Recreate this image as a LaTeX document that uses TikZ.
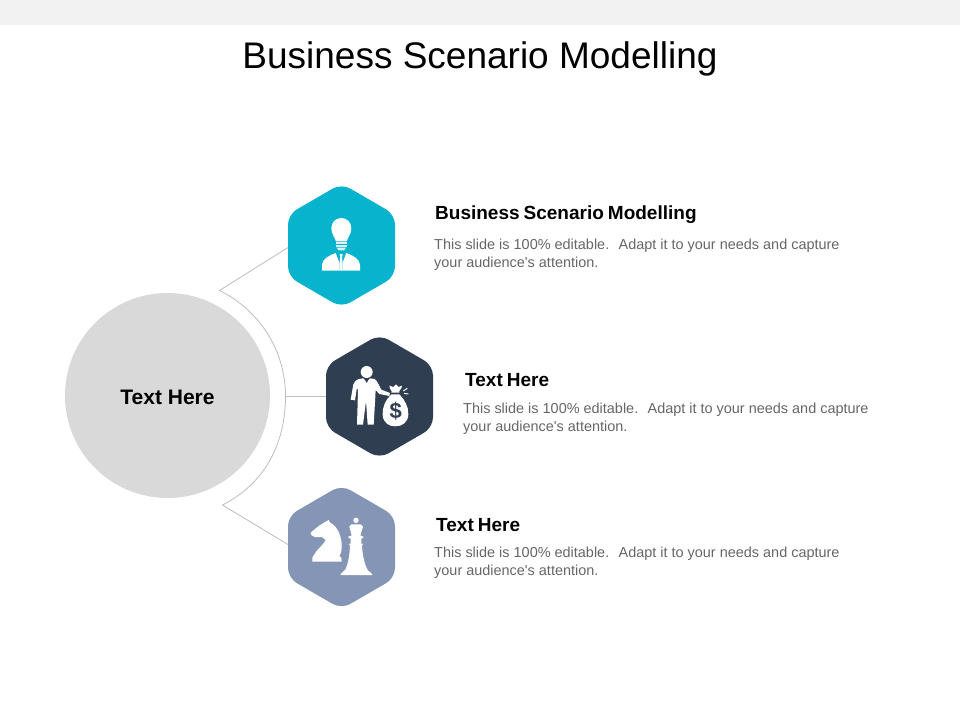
\documentclass[tikz,border=0pt]{standalone}
\usepackage{fontspec}
\setmainfont{Liberation Sans}
\definecolor{teal1}{HTML}{08B4CD}
\definecolor{navy1}{HTML}{2F3E50}
\definecolor{slate1}{HTML}{8595B5}
\definecolor{disc}{HTML}{D9D9D9}
\definecolor{wire}{HTML}{BDBDBD}
\definecolor{bodygrey}{HTML}{666666}
\newcommand{\hexat}[2]{\fill[#2,rounded corners=10pt] ($(#1)+(0,-62)$) -- ($(#1)+(53.5,-31)$) -- ($(#1)+(53.5,31)$) -- ($(#1)+(0,62)$) -- ($(#1)+(-53.5,31)$) -- ($(#1)+(-53.5,-31)$) -- cycle;}
\usetikzlibrary{calc}
\tikzset{
 wireline/.style={draw=wire,line width=0.8pt},
 headtext/.style={anchor=base west,inner sep=0pt,font=\fontsize{19}{19}\selectfont\bfseries,text=black},
 bodytext/.style={anchor=north west,inner sep=0pt,align=left,font=\fontsize{14.45}{18.6}\selectfont,text=bodygrey},
 icon/.style={fill=white,draw=none}
}
\begin{document}
\begin{tikzpicture}[x=1pt,y=-1pt]
\useasboundingbox (0,0) rectangle (960,720);
\fill[white] (0,0) rectangle (960,720);
\fill[black!5] (0,0) rectangle (960,25);
\node[anchor=base,inner sep=0pt,font=\fontsize{37}{37}\selectfont] (title) at (480,68.5) {Business Scenario Modelling};
% centre disc
\node[circle,fill=disc,minimum size=205pt,inner sep=0pt] (hub) at (167.5,395.5) {};
\node[inner sep=0pt,font=\fontsize{21}{21}\selectfont\bfseries] (hubtext) at (167.5,397) {Text Here};
% hexagons
\coordinate (h1) at (341.5,245.5);
\coordinate (h2) at (379.5,396.5);
\coordinate (h3) at (341.5,547);
\coordinate (h1l) at (288,247.5);
\coordinate (h2l) at (326,396);
\coordinate (h3l) at (288,544.5);
\coordinate (arcA) at (219.5,290.5);
\coordinate (arcM) at (285.5,396);
\coordinate (arcB) at (222.5,505);
\path[wireline] (h1l) -- (arcA) .. controls (259.9,310.4) and (285.5,351) .. (arcM) .. controls (285.5,443) and (265.5,483) .. (arcB) -- (h3l);
\path[wireline] (arcM) -- (h2l);
\hexat{h1}{teal1}
\hexat{h2}{navy1}
\hexat{h3}{slate1}
% icon 1: bulb person
\begin{scope}[shift={(270,170)},scale=1/3]
\fill[icon] (198,214) .. controls (194,200) and (184,192) .. (184,175) .. controls (184,157) and (197,144) .. (214,144) .. controls (231,144) and (244,157) .. (244,175) .. controls (244,192) and (234,200) .. (230,214) -- cycle;
\fill[white!85!teal1] (198,216) rectangle (230,222);
\fill[white!85!teal1] (198,224) rectangle (230,231);
\fill[white!85!teal1] (200,233) -- (228,233) -- (222,241) -- (206,241) -- cycle;
\fill[icon] (156,302) -- (156,284) .. controls (158,266) and (175,258) .. (197,249) -- (208,278) -- (208,302) -- cycle;
\fill[icon] (270,302) -- (270,284) .. controls (268,266) and (251,258) .. (229,249) -- (218,278) -- (218,302) -- cycle;
\fill[icon] (209,252) -- (218,252) -- (216,262) -- (218,282) -- (218,302) -- (208,302) -- (208,282) -- (211,262) -- cycle;
\end{scope}
% icon 2: man with money bag
\begin{scope}[shift={(310,325)},scale=1/3]
\fill[icon] (170,141) circle (18);
\fill[icon] (146,162) -- (160,160) -- (170,172) -- (180,160) -- (194,162) .. controls (204,170) and (208,184) .. (214,194) -- (240,204) -- (238,213) -- (208,207) -- (197,195) -- (195,232) -- (191,299) -- (173,299) -- (168,228) -- (159,299) -- (141,299) -- (143,232) -- (144,192) -- (140,192) -- (135,226) -- (122,224) -- (130,178) .. controls (133,170) and (138,165) .. (146,162) -- cycle;
\fill[navy1] (166,163) -- (174,163) -- (172,171) -- (170,173) -- (168,171) -- cycle;
% bag
\fill[icon] (244,208) .. controls (226,226) and (216,248) .. (218,270) .. controls (220,295) and (238,304) .. (256,304) .. controls (276,304) and (294,293) .. (295,268) .. controls (296,246) and (284,224) .. (268,208) -- cycle;
\fill[icon] (244,203) -- (268,203) -- (268,198) .. controls (274,192) and (276,186) .. (276,182) -- (266,186) -- (258,178) -- (250,186) -- (238,182) .. controls (238,188) and (241,194) .. (245,198) -- cycle;
\draw[white,line width=1pt] (280,198) -- (292,190) (282,205) -- (295,207);
\node[inner sep=0pt,text=navy1,font=\fontsize{22}{22}\selectfont\bfseries] (dollar) at (257,258) {\$};
\end{scope}
% icon 3: chess
\begin{scope}[shift={(270,475)},scale=1/3]
\fill[icon] (122,173) -- (146,153) -- (160,144) -- (176,135) -- (180,143) .. controls (198,150) and (212,175) .. (215,205) .. controls (216,222) and (214,235) .. (208,243) -- (214,248) -- (215,260) -- (127,260) -- (127,247) -- (132,240) .. controls (136,228) and (160,210) .. (167,195) -- (156,186) -- (134,186) -- (124,180) -- cycle;
\fill[icon] (258,136) circle (8);
\fill[icon] (244,148) -- (272,148) -- (279,155) -- (271,181) -- (280,185) -- (280,188) -- (274,191) -- (274,206) -- (281,207) -- (276,210) .. controls (277,240) and (284,270) .. (293,285) -- (306,297) -- (306,300) -- (212,300) -- (212,297) -- (225,285) .. controls (234,270) and (239,240) .. (240,210) -- (235,207) -- (242,206) -- (242,191) -- (235,188) -- (235,185) -- (245,181) -- (238,155) -- cycle;
\end{scope}
% texts
\node[headtext] (t1) at (435,219) {\spaceskip=4pt Business Scenario Modelling};
\node[bodytext] (b1) at (434,238.5) {This slide is 100\% editable.\hspace{4pt} Adapt it to your needs and capture\\your audience\textquotesingle s attention.};
\node[headtext] (t2) at (465,386) {\spaceskip=4pt Text Here};
\node[bodytext] (b2) at (463,402.5) {This slide is 100\% editable.\hspace{4pt} Adapt it to your needs and capture\\your audience\textquotesingle s attention.};
\node[headtext] (t3) at (436,531) {\spaceskip=4pt Text Here};
\node[bodytext] (b3) at (434,546.5) {This slide is 100\% editable.\hspace{4pt} Adapt it to your needs and capture\\your audience\textquotesingle s attention.};
\end{tikzpicture}
\end{document}
